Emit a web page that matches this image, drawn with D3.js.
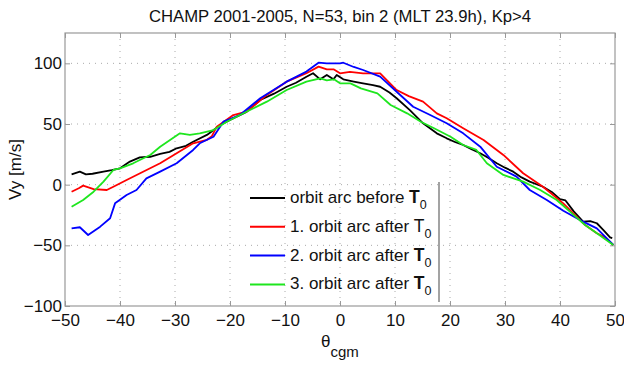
<!DOCTYPE html>
<html lang="en">
<head>
<meta charset="UTF-8">
<script src="https://d3js.org/d3.v7.min.js"></script>
<style>
  body { margin: 0; background: #fff; }
  text { font-family: "Liberation Sans", Arial, sans-serif; fill: #111; }
</style>
</head>
<body>
<div id="chart"></div>
<script>
// Data: [theta_cgm, Vy]
const arcBefore = [[-48.8, 8.5], [-47.3, 10.7], [-46.2, 8.5], [-45, 9], [-43, 10.7], [-41.5, 12], [-40, 13.5], [-38.2, 19], [-36.4, 22.5], [-34.5, 23], [-32.7, 25.3], [-31, 27], [-29.7, 30], [-28, 32], [-26.7, 35.4], [-24.2, 41], [-21.8, 49], [-20, 53.3], [-17, 60], [-14.5, 69.8], [-12, 75], [-9.7, 80.7], [-8, 84], [-6.1, 89], [-4.9, 91.8], [-3.6, 86.8], [-2.4, 90.4], [-1.2, 86.8], [-0.6, 90.4], [0.6, 86.8], [2.5, 85], [4.2, 83.5], [6, 82], [7.3, 80.7], [9, 76], [10.3, 71.2], [12.7, 61.5], [15.1, 50.6], [17.6, 42.3], [19.4, 38.2], [21, 35], [22.4, 32.7], [24, 29], [25.5, 25.9], [27, 22], [28.5, 17.6], [30, 14], [31.5, 10.7], [33, 6], [34.5, 2.5], [36.9, -1.7], [38.5, -6], [40, -12], [41, -13], [42.5, -22], [44.2, -30.5], [45.5, -30], [46.7, -31.8], [47.9, -37.4], [49.1, -43.4], [49.5, -44]];
const arcAfter1 = [[-48.8, -5.8], [-47.5, -3], [-46.7, -0.8], [-44.8, -3.6], [-42.4, -4.4], [-41.2, -1.7], [-38.8, 3.8], [-35.8, 10.7], [-32.7, 17.6], [-29.7, 25.9], [-26.7, 34.1], [-24.2, 37], [-23.3, 40], [-22.4, 47.8], [-19.4, 57.4], [-17, 60.1], [-13.3, 74], [-9.7, 84.9], [-6.1, 91.8], [-3.9, 97.3], [-2.4, 95.1], [-1.1, 95], [0, 91.8], [1.8, 93], [4.2, 91.8], [7.3, 91.8], [10.3, 78], [12.5, 73], [15.1, 68.4], [17.6, 58.8], [19.4, 54.7], [22.4, 46.5], [26.1, 36.8], [29.7, 24.5], [33.3, 9.4], [36.9, -1.7], [40.6, -15.4], [43, -26.4], [44.5, -33], [46.7, -40], [48, -43], [49.7, -49.7]];
const arcAfter2 = [[-48.8, -36], [-47.3, -35.1], [-45.8, -41.5], [-43.6, -34.6], [-41.8, -27.7], [-40.9, -15.4], [-38.8, -8.5], [-37, -4.4], [-35.2, 5.2], [-32.7, 10.7], [-29.7, 17.6], [-26.7, 28.6], [-25.5, 34.1], [-23, 39.5], [-21.2, 51.9], [-18.2, 57.4], [-14.5, 71.2], [-9.7, 84.9], [-6.1, 93.2], [-3.9, 100.5], [-2.4, 100], [0, 100], [0.6, 100.5], [2.5, 97], [4.2, 94.5], [7.3, 89], [10.3, 76.6], [13.3, 64.2], [16.4, 57.4], [19.4, 50.6], [22.4, 42.3], [25.5, 31.3], [28.5, 14.8], [32.1, 6.6], [34.5, -4.4], [37.6, -12.6], [40.6, -21.5], [44.2, -30.5], [46.7, -36], [49.7, -49.7]];
const arcAfter3 = [[-48.8, -18.2], [-46.7, -12.6], [-44.8, -5.8], [-43, 2.5], [-41.2, 12.1], [-40, 13.5], [-37.6, 17.6], [-36.4, 20.3], [-34.5, 24.5], [-32.7, 31.3], [-30.9, 36.8], [-29.1, 42.3], [-27.3, 41], [-25.5, 42.3], [-23, 45], [-20.6, 51.9], [-17, 60.1], [-13.3, 68.4], [-9.7, 78], [-6.1, 84.9], [-3.6, 87.6], [-2.4, 86], [-1.1, 86.8], [0, 83.5], [1.9, 83.5], [3.8, 79.4], [6.8, 75.3], [9.2, 65.7], [12.2, 58.8], [14.7, 51.9], [17.1, 46.5], [20.1, 39.5], [22.4, 32.7], [24.8, 28.6], [26.7, 17.6], [29.7, 8], [33.3, 2.5], [36.4, -4.4], [39.4, -12.6], [43, -27], [44.5, -33], [46.7, -40], [49.7, -49.7]];

const xTicks = [-50, -40, -30, -20, -10, 0, 10, 20, 30, 40, 50];
const yTicks = [-100, -50, 0, 50, 100];

const series = [
  { label: "orbit arc before ", bold: true, color: "#000000", values: arcBefore },
  { label: "1. orbit arc after ", bold: false, color: "#ff0000", values: arcAfter1 },
  { label: "2. orbit arc after ", bold: true, color: "#0000ff", values: arcAfter2 },
  { label: "3. orbit arc after ", bold: true, color: "#1ee61e", values: arcAfter3 }
];

// Chart dimensions
const width = 624;
const height = 367;
const margin = { top: 33, right: 9, bottom: 61, left: 65 };
const innerW = width - margin.left - margin.right;
const innerH = height - margin.top - margin.bottom;

const svg = d3.select("#chart")
  .append("svg")
  .attr("width", width)
  .attr("height", height);

const g = svg.append("g")
  .attr("transform", `translate(${margin.left},${margin.top})`);

// Scales
const xScale = d3.scaleLinear().domain([-50, 50]).range([0, innerW]);
const yScale = d3.scaleLinear().domain([-100, 125]).range([innerH, 0]);

// Dotted grid
g.append("g")
  .selectAll("line")
  .data(xTicks.slice(1, -1))
  .join("line")
  .attr("x1", d => xScale(d)).attr("x2", d => xScale(d))
  .attr("y1", 0).attr("y2", innerH)
  .attr("stroke", "#aaa")
  .attr("stroke-width", 1)
  .attr("stroke-dasharray", "1,5");

g.append("g")
  .selectAll("line")
  .data(yTicks.slice(1))
  .join("line")
  .attr("x1", 0).attr("x2", innerW)
  .attr("y1", d => yScale(d)).attr("y2", d => yScale(d))
  .attr("stroke", "#aaa")
  .attr("stroke-width", 1)
  .attr("stroke-dasharray", "1,5");

// Axes (ticks inward, mirrored)
const axisColor = "#999";
const styleAxis = sel => {
  sel.select(".domain").remove();
  sel.selectAll(".tick line").attr("stroke", axisColor);
  sel.selectAll("text")
    .attr("fill", "#111")
    .style("font-size", "17px")
    .style("font-family", "'Liberation Sans', Arial, sans-serif");
};

g.append("g")
  .attr("transform", `translate(0,${innerH})`)
  .call(d3.axisBottom(xScale).tickValues(xTicks).tickSize(-5).tickPadding(8).tickFormat(d3.format("d")))
  .call(styleAxis);

g.append("g")
  .call(d3.axisTop(xScale).tickValues(xTicks).tickSize(-5).tickFormat(""))
  .call(styleAxis);

g.append("g")
  .call(d3.axisLeft(yScale).tickValues(yTicks).tickSize(-5).tickPadding(3).tickFormat(d3.format("d")))
  .call(styleAxis);

g.append("g")
  .attr("transform", `translate(${innerW},0)`)
  .call(d3.axisRight(yScale).tickValues(yTicks).tickSize(-5).tickFormat(""))
  .call(styleAxis);

// Frame
g.append("rect")
  .attr("width", innerW)
  .attr("height", innerH)
  .attr("fill", "none")
  .attr("stroke", axisColor)
  .attr("stroke-width", 1.2);

// Lines
const line = d3.line()
  .x(d => xScale(d[0]))
  .y(d => yScale(d[1]));

g.selectAll("path.series")
  .data(series)
  .join("path")
  .attr("class", "series")
  .attr("d", d => line(d.values))
  .attr("fill", "none")
  .attr("stroke", d => d.color)
  .attr("stroke-width", 1.8)
  .attr("stroke-linejoin", "round");

// Title
svg.append("text")
  .attr("x", margin.left + innerW / 2)
  .attr("y", 22)
  .attr("text-anchor", "middle")
  .style("font-size", "16.7px")
  .text("CHAMP 2001-2005, N=53, bin 2 (MLT 23.9h), Kp>4");

// Axis labels
svg.append("text")
  .attr("transform", `translate(21,${margin.top + innerH / 2}) rotate(-90)`)
  .attr("text-anchor", "middle")
  .style("font-size", "17px")
  .text("Vy [m/s]");

const xLabel = svg.append("text")
  .attr("x", 321)
  .attr("y", 347)
  .style("font-size", "17px");
xLabel.append("tspan").text("θ");
xLabel.append("tspan").attr("dy", 10).style("font-size", "15px").text("cgm");

// Legend
const legend = svg.append("g")
  .attr("transform", "translate(248,182)");

legend.append("line")
  .attr("x1", 191).attr("x2", 191)
  .attr("y1", 0).attr("y2", 120)
  .attr("stroke", "#666")
  .attr("stroke-width", 1.2);

const rows = legend.selectAll("g.row")
  .data(series)
  .join("g")
  .attr("class", "row")
  .attr("transform", (d, i) => `translate(0,${16 + i * 28.8})`);

rows.append("line")
  .attr("x1", 2).attr("x2", 37)
  .attr("stroke", d => d.color)
  .attr("stroke-width", 2);

const labels = rows.append("text")
  .attr("x", 42)
  .attr("y", 5)
  .style("font-size", "17px");
labels.append("tspan").text(d => d.label);
labels.append("tspan")
  .style("font-weight", d => d.bold ? "bold" : "normal")
  .style("font-size", "17.5px")
  .text("T");
labels.append("tspan")
  .attr("dy", 6)
  .style("font-size", "12.5px")
  .text("0");
</script>
</body>
</html>
